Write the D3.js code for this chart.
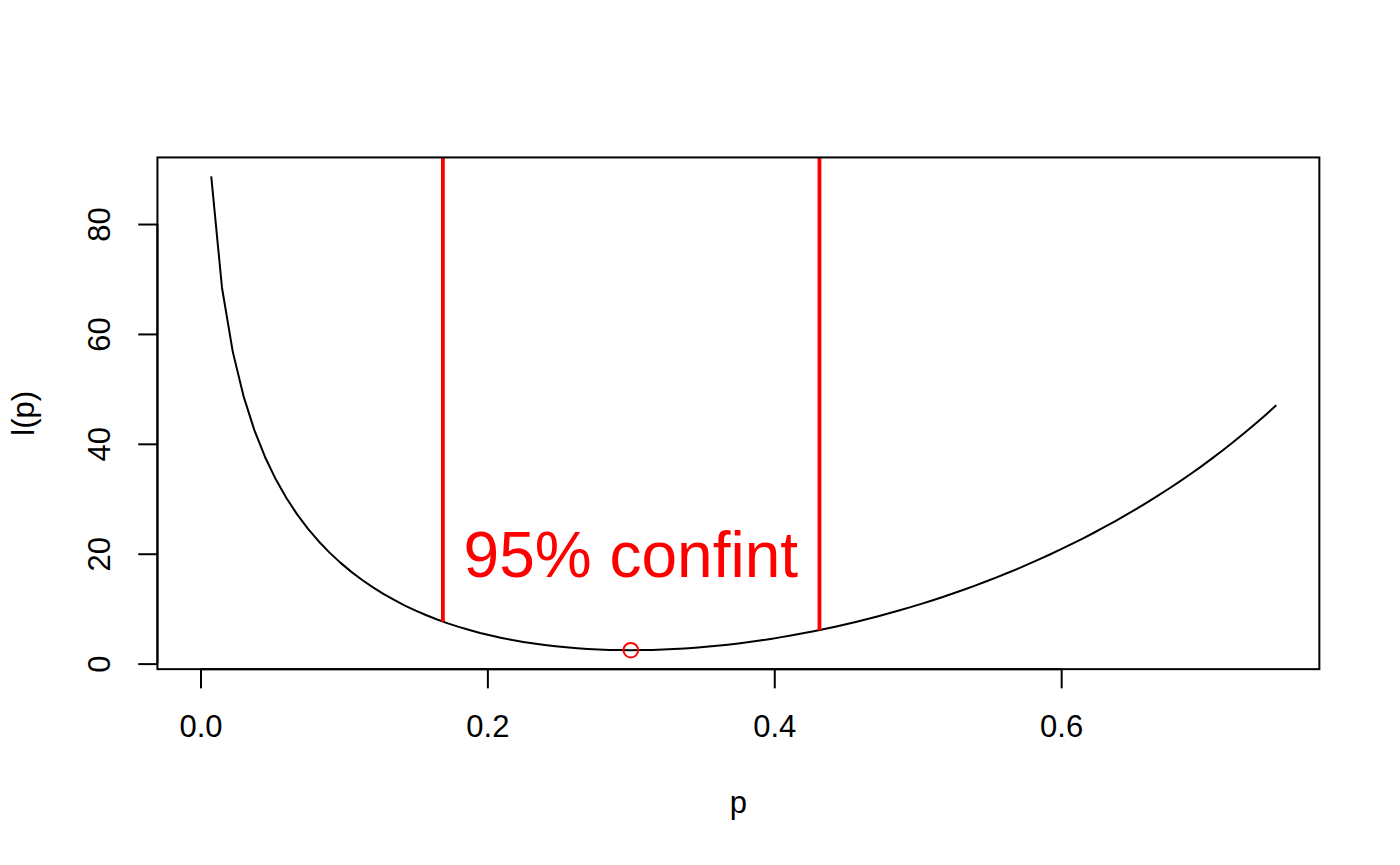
<!DOCTYPE html>
<html>
<head>
<meta charset="utf-8">
<script src="https://cdn.jsdelivr.net/npm/d3@7"></script>
<style>
  html, body { margin: 0; padding: 0; background: #fff; }
  svg text { font-family: "Liberation Sans", Arial, Helvetica, sans-serif; }
</style>
</head>
<body>
<svg id="chart" width="1400" height="865"></svg>
<script>
// ---- data ----
const pValues = [0, 0.0075, 0.015, 0.0225, 0.03, 0.0375, 0.045, 0.0525, 0.06, 0.0675, 0.075,
  0.0825, 0.09, 0.0975, 0.105, 0.1125, 0.12, 0.1275, 0.135, 0.1425, 0.15,
  0.1575, 0.165, 0.1725, 0.18, 0.1875, 0.195, 0.2025, 0.21, 0.2175, 0.225,
  0.2325, 0.24, 0.2475, 0.255, 0.2625, 0.27, 0.2775, 0.285, 0.2925, 0.3,
  0.3075, 0.315, 0.3225, 0.33, 0.3375, 0.345, 0.3525, 0.36, 0.3675, 0.375,
  0.3825, 0.39, 0.3975, 0.405, 0.4125, 0.42, 0.4275, 0.435, 0.4425, 0.45,
  0.4575, 0.465, 0.4725, 0.48, 0.4875, 0.495, 0.5025, 0.51, 0.5175, 0.525,
  0.5325, 0.54, 0.5475, 0.555, 0.5625, 0.57, 0.5775, 0.585, 0.5925, 0.6,
  0.6075, 0.615, 0.6225, 0.63, 0.6375, 0.645, 0.6525, 0.66, 0.6675, 0.675,
  0.6825, 0.69, 0.6975, 0.705, 0.7125, 0.72, 0.7275, 0.735, 0.7425, 0.75];
// l(p); first value is infinite (not drawn)
const lValues = [Infinity, 88.67, 68.41, 56.78, 48.69, 42.54, 37.61, 33.54, 30.09, 27.12, 24.52,
  22.23, 20.20, 18.38, 16.74, 15.26, 13.91, 12.69, 11.58, 10.57, 9.65,
  8.80, 8.03, 7.33, 6.69, 6.11, 5.58, 5.11, 4.68, 4.29, 3.95,
  3.65, 3.38, 3.15, 2.96, 2.80, 2.67, 2.57, 2.50, 2.46, 2.44,
  2.46, 2.50, 2.56, 2.65, 2.77, 2.90, 3.06, 3.25, 3.45, 3.68,
  3.93, 4.21, 4.50, 4.82, 5.16, 5.51, 5.89, 6.30, 6.72, 7.16,
  7.63, 8.11, 8.62, 9.15, 9.70, 10.28, 10.87, 11.49, 12.13, 12.80,
  13.49, 14.20, 14.94, 15.70, 16.49, 17.30, 18.14, 19.01, 19.90, 20.82,
  21.78, 22.76, 23.77, 24.82, 25.90, 27.01, 28.16, 29.34, 30.56, 31.82,
  33.13, 34.47, 35.86, 37.30, 38.78, 40.32, 41.91, 43.56, 45.26, 47.03];
const ciBounds = [0.169, 0.4315];
const ciValues = [7.6, 6.05];
const mleP = [0.3];
const mleL = [2.44];
const xTicks = [0.0, 0.2, 0.4, 0.6];
const yTicks = [0, 20, 40, 60, 80];
const labelText = "95% confint";
const labelPos = [0.3, 20];
const xTitle = "p";
const yTitle = "l(p)";

// ---- layout ----
const W = 1400, H = 865;
const lh = 38.4; // one margin line
const plot = { left: 4.1 * lh, right: W - 2.1 * lh, top: 4.1 * lh, bottom: H - 5.1 * lh };

function ext(a) {
  const e = d3.extent(a.filter(v => isFinite(v)));
  const d = (e[1] - e[0]) * 0.04;
  return [e[0] - d, e[1] + d];
}
const x = d3.scaleLinear().domain(ext(pValues)).range([plot.left, plot.right]);
const y = d3.scaleLinear().domain(ext(lValues)).range([plot.bottom, plot.top]);

const svg = d3.select("#chart");
svg.append("rect").attr("width", W).attr("height", H).attr("fill", "#fff");

svg.append("defs").append("clipPath").attr("id", "clip")
  .append("rect").attr("x", plot.left).attr("y", plot.top)
  .attr("width", plot.right - plot.left).attr("height", plot.bottom - plot.top);

const g = svg.append("g").attr("clip-path", "url(#clip)");

const pts = pValues.map((p, i) => ({ p, l: lValues[i] }));
const line = d3.line().defined(d => isFinite(d.l)).x(d => x(d.p)).y(d => y(d.l));
g.append("path").datum(pts).attr("d", line)
  .attr("fill", "none").attr("stroke", "#000").attr("stroke-width", 2)
  .attr("stroke-linejoin", "round");

// CI segments
g.selectAll("line.ci").data(ciBounds.map((b, i) => ({ b, v: ciValues[i] })))
  .join("line").attr("class", "ci")
  .attr("x1", d => x(d.b)).attr("x2", d => x(d.b))
  .attr("y1", d => y(d.v)).attr("y2", y(y.domain()[1]) - 5)
  .attr("stroke", "#ff0000").attr("stroke-width", 3.8);

// MLE point
g.selectAll("circle.mle").data(mleP.map((p, i) => ({ p, l: mleL[i] })))
  .join("circle").attr("class", "mle")
  .attr("cx", d => x(d.p)).attr("cy", d => y(d.l)).attr("r", 7.3)
  .attr("fill", "none").attr("stroke", "#ff0000").attr("stroke-width", 2);

// label
svg.append("text").attr("x", x(labelPos[0])).attr("y", y(labelPos[1]))
  .attr("dy", "0.36em").attr("text-anchor", "middle")
  .attr("font-size", 64).attr("fill", "#ff0000").text(labelText);

// box
svg.append("rect").attr("x", plot.left).attr("y", plot.top)
  .attr("width", plot.right - plot.left).attr("height", plot.bottom - plot.top)
  .attr("fill", "none").attr("stroke", "#000").attr("stroke-width", 2);

// x axis
const xAxis = d3.axisBottom(x).tickValues(xTicks).tickFormat(d3.format(".1f"))
  .tickSize(19.2).tickPadding(0);
const gx = svg.append("g").attr("transform", `translate(0,${plot.bottom})`).call(xAxis);
gx.select(".domain").attr("d", `M${x(xTicks[0])},0H${x(xTicks[xTicks.length - 1])}`)
  .attr("stroke-width", 2);
gx.selectAll(".tick line").attr("stroke-width", 2);
gx.selectAll(".tick text").attr("font-size", 31).attr("font-family", "Liberation Sans, Arial, sans-serif")
  .attr("fill", "#000").attr("dy", null).attr("y", 68);

// y axis
const yAxis = d3.axisLeft(y).tickValues(yTicks).tickFormat(d3.format("d"))
  .tickSize(19.2).tickPadding(0);
const gy = svg.append("g").attr("transform", `translate(${plot.left},0)`).call(yAxis);
gy.select(".domain").attr("d", `M0,${y(yTicks[0])}V${y(yTicks[yTicks.length - 1])}`)
  .attr("stroke-width", 2);
gy.selectAll(".tick line").attr("stroke-width", 2);
gy.selectAll(".tick text").attr("font-size", 31).attr("font-family", "Liberation Sans, Arial, sans-serif")
  .attr("fill", "#000").attr("x", null).attr("dy", null)
  .attr("text-anchor", "middle")
  .attr("transform", "translate(-47.4,0) rotate(-90)");

// titles
svg.append("text").attr("x", (plot.left + plot.right) / 2).attr("y", plot.bottom + 144)
  .attr("text-anchor", "middle").attr("font-size", 31).text(xTitle);
svg.append("text")
  .attr("transform", `translate(${plot.left - 123},${(plot.top + plot.bottom) / 2}) rotate(-90)`)
  .attr("text-anchor", "middle").attr("font-size", 31).text(yTitle);
</script>
</body>
</html>
